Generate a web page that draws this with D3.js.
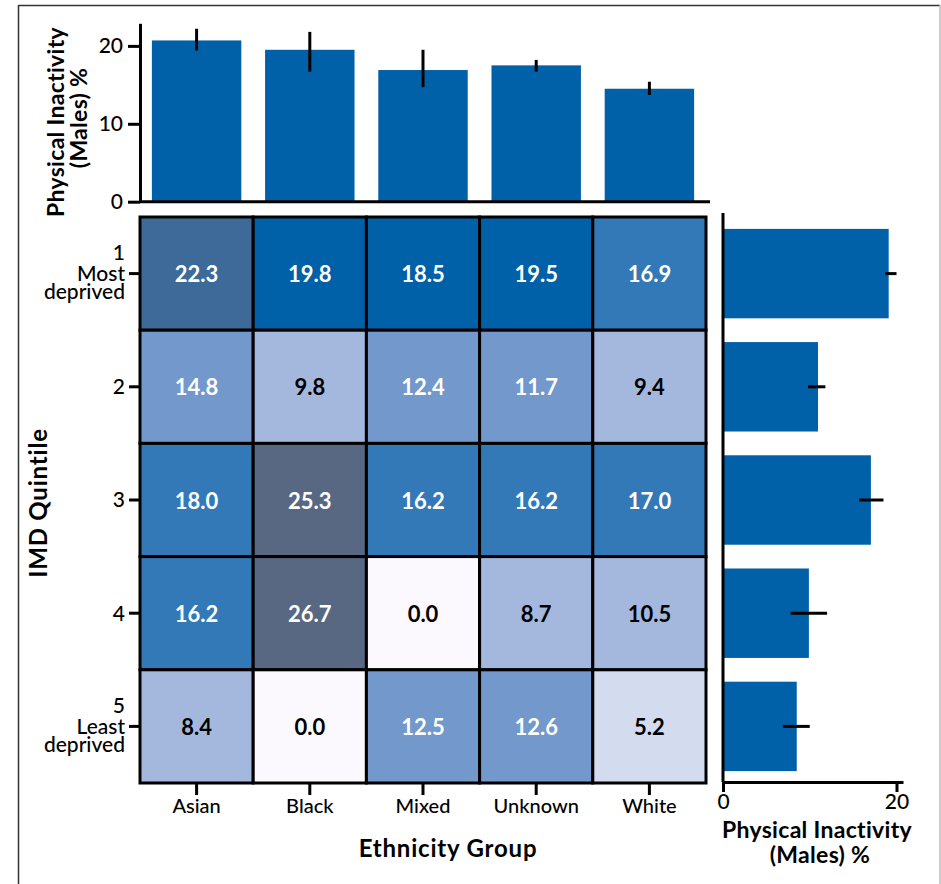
<!DOCTYPE html>
<html>
<head>
<meta charset="utf-8">
<script src="https://cdn.jsdelivr.net/npm/d3@7"></script>
<style>
  html, body { margin: 0; padding: 0; background: #fff; }
  svg { display: block; font-family: Lato, "Open Sans", sans-serif; }
</style>
</head>
<body>
<svg id="chart" width="941" height="884"></svg>
<script>
// Ethnicity groups (columns) and IMD quintiles (rows)
const ethnicities = ["Asian", "Black", "Mixed", "Unknown", "White"];
const quintiles = ["1", "2", "3", "4", "5"];
const quintileNotes = { "1": ["Most", "deprived"], "5": ["Least", "deprived"] };

// Physical inactivity (males) %, rows = quintile 1..5, columns = ethnicity
const cellValues = [
  [22.3, 19.8, 18.5, 19.5, 16.9],
  [14.8, 9.8, 12.4, 11.7, 9.4],
  [18.0, 25.3, 16.2, 16.2, 17.0],
  [16.2, 26.7, 0.0, 8.7, 10.5],
  [8.4, 0.0, 12.5, 12.6, 5.2]
];

// Marginal totals by ethnicity, with confidence intervals
const ethnicityMean = [20.7, 19.5, 16.9, 17.5, 14.5];
const ethnicityLow  = [19.4, 16.7, 14.7, 16.7, 13.7];
const ethnicityHigh = [22.2, 21.8, 19.5, 18.2, 15.4];

// Marginal totals by quintile, with confidence intervals
const quintileMean = [19.1, 10.95, 17.05, 9.9, 8.5];
const quintileLow  = [18.7, 9.8, 15.7, 7.8, 6.9];
const quintileHigh = [20.0, 11.8, 18.5, 12.0, 10.0];

const topTicks = [0, 10, 20];
const rightTicks = [0, 20];

// Stepped colour bins for the heatmap
const binEdges = [2.5, 7, 11, 15, 18.25, 21, 24];
const binColors = ["#FBF9FD", "#D3DCEE", "#A4B8DE", "#7398CB", "#3379B8", "#0060A8", "#3D6A99", "#586883"];

const barColor = "#0060A8";
const svg = d3.select("#chart");

// Figure frame
svg.append("line").attr("x1", 18.5).attr("x2", 940).attr("y1", 5.5).attr("y2", 5.5)
  .attr("stroke", "#333").attr("stroke-width", 1.5);
svg.append("line").attr("x1", 18.5).attr("x2", 18.5).attr("y1", 5).attr("y2", 884)
  .attr("stroke", "#333").attr("stroke-width", 1.5);
svg.append("line").attr("x1", 940).attr("x2", 940).attr("y1", 5).attr("y2", 884)
  .attr("stroke", "#bbb").attr("stroke-width", 1.5);

// Heatmap scales
const hx = d3.scaleBand().domain(ethnicities).range([140, 706]);
const hy = d3.scaleBand().domain(quintiles).range([217, 783]);
const color = d3.scaleThreshold().domain(binEdges).range(binColors);

const cells = [];
quintiles.forEach((q, i) => ethnicities.forEach((e, j) => cells.push({ q, e, v: cellValues[i][j] })));

const heat = svg.append("g");
heat.selectAll("rect").data(cells).join("rect")
  .attr("x", d => hx(d.e)).attr("y", d => hy(d.q))
  .attr("width", hx.bandwidth()).attr("height", hy.bandwidth())
  .attr("fill", d => color(d.v))
  .attr("stroke", "#000").attr("stroke-width", 3);
heat.selectAll("text").data(cells).join("text")
  .attr("x", d => hx(d.e) + hx.bandwidth() / 2)
  .attr("y", d => hy(d.q) + hy.bandwidth() / 2)
  .attr("text-anchor", "middle").attr("dominant-baseline", "central")
  .attr("font-size", 22).attr("font-weight", 700)
  .attr("fill", d => d.v >= 11 ? "#fff" : "#000")
  .text(d => d.v.toFixed(1));

// Heatmap axes
function styleAxis(g, size) {
  g.select(".domain").attr("stroke", "#000").attr("stroke-width", 3);
  g.selectAll(".tick line").attr("stroke", "#000").attr("stroke-width", 3);
  g.selectAll(".tick text").attr("fill", "#000").attr("font-size", size || 20)
    .attr("font-weight", 500)
    .attr("font-family", "Lato, 'Open Sans', sans-serif");
}

const xAxisG = svg.append("g").attr("transform", "translate(0,783)")
  .call(d3.axisBottom(hx).tickSize(12).tickSizeOuter(0).tickPadding(4));
styleAxis(xAxisG);
xAxisG.select(".domain").remove();

const yAxisG = svg.append("g").attr("transform", "translate(139,0)")
  .call(d3.axisLeft(hy).tickSize(10).tickSizeOuter(0).tickPadding(4));
styleAxis(yAxisG, 21);
yAxisG.select(".domain").remove();
yAxisG.selectAll(".tick text").each(function (q) {
  const t = d3.select(this);
  const notes = quintileNotes[q];
  if (!notes) { t.attr("dy", "0.35em"); return; }
  t.text(null).attr("dy", null);
  t.append("tspan").attr("x", -14).attr("y", -21).attr("dy", "0.35em").text(q);
  notes.forEach((n, k) => t.append("tspan").attr("x", -14).attr("y", k * 18).attr("dy", "0.35em").text(n));
});

svg.append("text").attr("x", 448).attr("y", 847)
  .attr("text-anchor", "middle").attr("dominant-baseline", "central")
  .attr("font-size", 24).attr("font-weight", 700).attr("letter-spacing", 0.8).text("Ethnicity Group");
svg.append("text").attr("transform", "translate(37,503) rotate(-90)")
  .attr("text-anchor", "middle").attr("dominant-baseline", "central")
  .attr("font-size", 24).attr("font-weight", 700).attr("letter-spacing", 0.8).text("IMD Quintile");

// Top marginal bar chart
const tx = d3.scaleBand().domain(ethnicities).range([140, 706]).paddingInner(0.21).paddingOuter(0.105);
const ty = d3.scaleLinear().domain([0, 22.9]).range([201.7, 23.3]);
const topG = svg.append("g");
topG.selectAll("rect").data(ethnicities).join("rect")
  .attr("x", d => tx(d)).attr("width", tx.bandwidth())
  .attr("y", (d, i) => ty(ethnicityMean[i]))
  .attr("height", (d, i) => ty(0) - ty(ethnicityMean[i]))
  .attr("fill", barColor);
topG.selectAll("line.err").data(ethnicities).join("line").attr("class", "err")
  .attr("x1", d => tx(d) + tx.bandwidth() / 2).attr("x2", d => tx(d) + tx.bandwidth() / 2)
  .attr("y1", (d, i) => ty(ethnicityLow[i])).attr("y2", (d, i) => ty(ethnicityHigh[i]))
  .attr("stroke", "#000").attr("stroke-width", 3);
topG.append("line").attr("x1", 140).attr("x2", 710).attr("y1", ty(0)).attr("y2", ty(0))
  .attr("stroke", "#000").attr("stroke-width", 3);
const topAxis = svg.append("g").attr("transform", "translate(140,0)")
  .call(d3.axisLeft(ty).tickValues(topTicks).tickSize(12).tickSizeOuter(0).tickPadding(5));
styleAxis(topAxis, 21);

const topTitle = svg.append("text").attr("transform", "rotate(-90)")
  .attr("text-anchor", "middle").attr("font-size", 23).attr("font-weight", 700).attr("letter-spacing", 0.3);
topTitle.append("tspan").attr("x", -122).attr("y", 56).attr("dy", "0.35em").text("Physical Inactivity");
topTitle.append("tspan").attr("x", -118).attr("y", 79).attr("dy", "0.35em").text("(Males) %");

// Right marginal bar chart
const rx = d3.scaleLinear().domain([0, 20.75]).range([723, 903]);
const ry = d3.scaleBand().domain(quintiles).range([217, 783]).paddingInner(0.21).paddingOuter(0.105);
const rightG = svg.append("g");
rightG.selectAll("rect").data(quintiles).join("rect")
  .attr("y", d => ry(d)).attr("height", ry.bandwidth())
  .attr("x", rx(0)).attr("width", (d, i) => rx(quintileMean[i]) - rx(0))
  .attr("fill", barColor);
rightG.selectAll("line.err").data(quintiles).join("line").attr("class", "err")
  .attr("y1", d => ry(d) + ry.bandwidth() / 2).attr("y2", d => ry(d) + ry.bandwidth() / 2)
  .attr("x1", (d, i) => rx(quintileLow[i])).attr("x2", (d, i) => rx(quintileHigh[i]))
  .attr("stroke", "#000").attr("stroke-width", 3);
rightG.append("line").attr("x1", rx(0)).attr("x2", rx(0)).attr("y1", 213).attr("y2", 782)
  .attr("stroke", "#000").attr("stroke-width", 3);
const rightAxis = svg.append("g").attr("transform", "translate(0,782)")
  .call(d3.axisBottom(rx).tickValues(rightTicks).tickSize(10).tickSizeOuter(0).tickPadding(2));
styleAxis(rightAxis, 21);

const rightTitle = svg.append("text").attr("text-anchor", "middle")
  .attr("font-size", 23).attr("font-weight", 700).attr("letter-spacing", 0.3);
rightTitle.append("tspan").attr("x", 817).attr("y", 830).attr("dy", "0.35em").text("Physical Inactivity");
rightTitle.append("tspan").attr("x", 820).attr("y", 855).attr("dy", "0.35em").text("(Males) %");
</script>
</body>
</html>
